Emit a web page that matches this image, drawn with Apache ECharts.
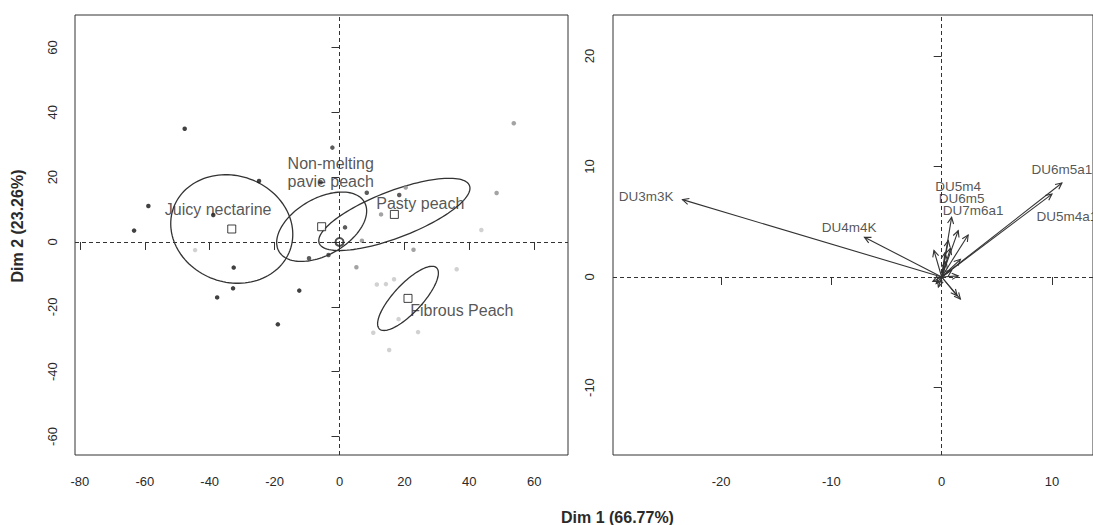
<!DOCTYPE html>
<html><head><meta charset="utf-8">
<script src="https://cdn.jsdelivr.net/npm/echarts@6/dist/echarts.min.js"></script>
<style>html,body{margin:0;padding:0;background:#fff}#c{width:1093px;height:525px}</style>
</head><body><div id="c"></div>
<script>
// ---- Individuals factor map (Dim 1, Dim 2) by group ----
const juicyPts = [[-47.7,34.9],[-58.9,11.1],[-63.3,3.5],[-38.9,8.3],[-24.8,18.8],[-32.6,-7.9],[-32.8,-14.3],[-37.7,-17.1],[-19.0,-25.4],[-12.4,-15.0]];
const nonMeltPts = [[-2.2,29.1],[-5.8,18.4],[1.7,4.5],[-9.4,-5.0],[-3.4,-4.0],[8.4,15.2],[18.4,14.5]];
const pastyPts = [[12.8,8.5],[20.4,16.8],[5.2,-7.8],[22.8,-2.4],[48.4,15.1],[53.7,36.6],[6.9,0.4]];
const fibrousPts = [[11.5,-13.1],[14.3,-13.0],[16.8,-11.5],[18.2,-23.8],[10.4,-28.0],[24.2,-27.8],[15.3,-33.3],[36.1,-8.4],[43.7,3.7],[-44.5,-2.5]];
const originPt = [[0,0]];
const groupNames = ['Juicy nectarine','Non-melting\npavie peach','Pasty peach','Fibrous Peach'];
const groupMeans = [[-33.2,4.0],[-5.5,4.7],[16.9,8.5],[21.1,-17.4]];
const groupLabelAt = [[-37.4,10.1],[-2.7,21.5],[24.9,11.9],[37.7,-21.2]];
// confidence ellipses: [semi-major, semi-minor, angle in degrees]
const ellipseAxes = [[19.1,16.4,-20],[15.2,8.7,30],[24.8,7.2,21],[12.9,4.4,47]];
const leftXTicks = [-80,-60,-40,-20,0,20,40,60];
const leftYTicks = [-60,-40,-20,0,20,40,60];

// ---- Variables factor map ----
const varNames = ['DU3m3K','DU4m4K','DU6m5a1','DU5m4a1','DU5m4','DU6m5','DU7m6a1','','','','','','','','','','','','',''];
const varCoords = [[-23.5,7.0],[-7.0,3.6],[10.9,8.5],[10.0,7.5],[0.9,5.4],[1.5,4.2],[2.4,3.8],
  [-0.7,2.4],[0.6,3.3],[0.3,2.2],[1.7,1.6],[1.5,0.1],[1.7,-2.0],[1.4,-1.7],[-0.5,-0.6],[-0.8,-0.4],[0.4,1.4],[0.8,2.6],[-0.3,-0.9],[0.9,0.6]];
const varLabelAt = [[-26.8,7.3],[-8.4,4.5],[10.9,9.75],[11.35,5.5],[1.5,8.2],[1.8,7.1],[2.85,6.05]];
const rightXTicks = [-20,-10,0,10];
const rightYTicks = [-10,0,10,20];

const FONT = "'Liberation Sans', Arial, Helvetica, sans-serif";
const INK = '#2a2a2a';

function ellipseItem(params, api){
  const cx = api.value(0), cy = api.value(1), a = api.value(2), b = api.value(3), ang = api.value(4)*Math.PI/180;
  const pts = [];
  for (let k = 0; k <= 120; k++) {
    const t = k/120*2*Math.PI, ex = a*Math.cos(t), ey = b*Math.sin(t);
    pts.push(api.coord([cx + ex*Math.cos(ang) - ey*Math.sin(ang), cy + ex*Math.sin(ang) + ey*Math.cos(ang)]));
  }
  return {type:'polyline', shape:{points:pts}, style:{stroke:'#333', lineWidth:1.3, fill:null}};
}
function arrowItem(params, api){
  const p0 = api.coord([0,0]), p1 = api.coord([api.value(0), api.value(1)]);
  const ang = Math.atan2(p1[1]-p0[1], p1[0]-p0[0]), L = 7, h = 0.45;
  const h1 = [p1[0]-L*Math.cos(ang-h), p1[1]-L*Math.sin(ang-h)];
  const h2 = [p1[0]-L*Math.cos(ang+h), p1[1]-L*Math.sin(ang+h)];
  return {type:'group', children:[
    {type:'line', shape:{x1:p0[0],y1:p0[1],x2:p1[0],y2:p1[1]}, style:{stroke:'#333',lineWidth:1.1}},
    {type:'polyline', shape:{points:[h1,p1,h2]}, style:{stroke:'#333',lineWidth:1.1,fill:null}}
  ]};
}

function xAxisCfg(grid, min, max, ticks){
  return {type:'value', gridIndex:grid, min:min, max:max, splitLine:{show:false},
    axisLine:{show:false},
    axisTick:{show:true, length:8, customValues:ticks, lineStyle:{color:'#333'}},
    axisLabel:{customValues:ticks, margin:20, fontSize:13, color:INK, fontFamily:FONT}};
}
function yAxisCfg(grid, min, max, ticks, margin){
  return {type:'value', gridIndex:grid, min:min, max:max, splitLine:{show:false},
    axisLine:{show:false},
    axisTick:{show:true, length:8, customValues:ticks, lineStyle:{color:'#333'}},
    axisLabel:{customValues:ticks, margin:margin, rotate:90, fontSize:13, color:INK, fontFamily:FONT}};
}
const dashLine = {symbol:'none', silent:true, label:{show:false}, lineStyle:{type:[4,3], color:'#333', width:1},
  data:[{xAxis:0},{yAxis:0}]};

const chart = echarts.init(document.getElementById('c'), null, {renderer:'svg'});
const leftY = yAxisCfg(0, -65.7, 70.0, leftYTicks, 16);
leftY.name = 'Dim 2 (23.26%)';
leftY.nameLocation = 'middle';
leftY.nameGap = 50;
leftY.nameTextStyle = {fontSize:16, fontWeight:'bold', color:INK, fontFamily:FONT, padding:[0,0,0,18]};

chart.setOption({
  animation:false,
  backgroundColor:'#fff',
  title:{text:'Dim 1 (66.77%)', left:561, top:509, padding:0,
    textStyle:{fontSize:16, fontWeight:'bold', color:INK, fontFamily:FONT}},
  grid:[
    {left:75, top:15, width:493, height:440, show:true, borderColor:'#333', borderWidth:1, backgroundColor:'transparent'},
    {left:613, top:15, width:480, height:440, show:true, borderColor:'#333', borderWidth:1, backgroundColor:'transparent'}
  ],
  xAxis:[xAxisCfg(0, -81.5, 70.4, leftXTicks), xAxisCfg(1, -29.8, 13.72, rightXTicks)],
  yAxis:[leftY, yAxisCfg(1, -16.1, 23.7, rightYTicks, 17)],
  series:[
    {type:'scatter', xAxisIndex:0, yAxisIndex:0, data:originPt, symbol:'circle', symbolSize:8,
      itemStyle:{color:'rgba(0,0,0,0)', borderColor:'#222', borderWidth:2}, z:5, markLine:dashLine},
    {type:'custom', xAxisIndex:0, yAxisIndex:0, renderItem:ellipseItem, z:3,
      data:groupMeans.map((m,i)=>[m[0],m[1]].concat(ellipseAxes[i]))},
    {type:'scatter', xAxisIndex:0, yAxisIndex:0, data:juicyPts, symbolSize:4.5, itemStyle:{color:'#111'}, z:4},
    {type:'scatter', xAxisIndex:0, yAxisIndex:0, data:nonMeltPts, symbolSize:4.5, itemStyle:{color:'#333'}, z:4},
    {type:'scatter', xAxisIndex:0, yAxisIndex:0, data:pastyPts, symbolSize:4.5, itemStyle:{color:'#8c8c8c'}, z:4},
    {type:'scatter', xAxisIndex:0, yAxisIndex:0, data:fibrousPts, symbolSize:4.5, itemStyle:{color:'#c6c6c6'}, z:4},
    {type:'scatter', xAxisIndex:0, yAxisIndex:0, data:groupMeans, symbol:'rect', symbolSize:8,
      itemStyle:{color:'#fff', borderColor:'#111', borderWidth:1}, z:6},
    {type:'scatter', xAxisIndex:0, yAxisIndex:0, symbolSize:0, z:7,
      data:groupLabelAt.map((p,i)=>({value:p, name:groupNames[i]})),
      label:{show:true, position:'inside', formatter:'{b}', fontSize:16, lineHeight:18, color:INK, fontFamily:FONT}},
    {type:'custom', xAxisIndex:1, yAxisIndex:1, renderItem:arrowItem, z:3, data:varCoords,
      markLine:dashLine},
    {type:'scatter', xAxisIndex:1, yAxisIndex:1, symbolSize:0, z:7,
      data:varLabelAt.map((p,i)=>({value:p, name:varNames[i]})),
      label:{show:true, position:'inside', formatter:'{b}', fontSize:13.5, color:INK, fontFamily:FONT}}
  ]
});
</script></body></html>
